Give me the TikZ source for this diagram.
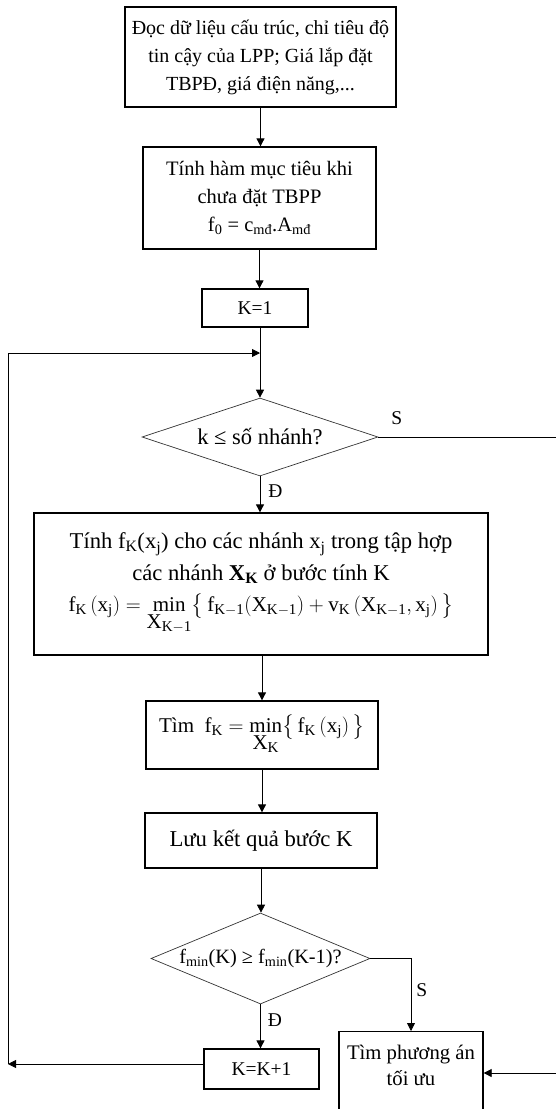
\documentclass[tikz,border=0pt]{standalone}
\usepackage{amsmath}
\usepackage{fontspec}
\setmainfont{Liberation Serif}
\usetikzlibrary{arrows.meta,shapes.geometric}
\DeclareMathSizes{21}{21}{15}{11}
\newcommand\tx[1]{\text{#1}}
\newcommand\mylim[1]{\mathop{\tx{min}}\limits_{\textstyle #1}}
\newcommand\fsz[2]{\fontsize{#1}{#2}\selectfont}
\begin{document}
\begin{tikzpicture}[x=1pt,y=-1pt,
  every node/.style={font=\fsz{19.5}{28}},
  box/.style={draw, line width=1.3pt, align=center, inner sep=0pt},
  dec/.style={draw=black!80, shape=diamond, line width=0.7pt, inner sep=0pt, aspect=2.5},
  conn/.style={line width=0.8pt},
  arr/.style={conn, -{Triangle[length=8pt,width=8pt]}},
  lbl/.style={inner sep=0pt}]
\useasboundingbox (0,0) rectangle (556,1109);

\node[box, minimum width=271pt, minimum height=100pt, font=\fsz{20}{28}] (b1) at (260.5,57)
  {Đọc dữ liệu cấu trúc, chỉ tiêu độ\\tin cậy của LPP; Giá lắp đặt\\TBPĐ, giá điện năng,...};
\node[box, minimum width=233pt, minimum height=102pt, font=\fsz{20.5}{28}] (b2) at (259.5,198)
  {Tính hàm mục tiêu khi\\chưa đặt TBPP\\f\textsubscript{0} = c\textsubscript{mđ}.A\textsubscript{mđ}};
\node[box, minimum width=106pt, minimum height=38pt] (k1) at (255,308) {K=1};
\node[dec, minimum width=236pt, minimum height=78pt, font=\fsz{22.5}{28}] (d1) at (260,437) {k ≤ số nhánh?};
\node[box, minimum width=454pt, minimum height=142pt, font=\fsz{22.6}{31.5}] (b3) at (261,584)
  {Tính f\textsubscript{K}(x\textsubscript{j}) cho các nhánh x\textsubscript{j} trong tập hợp\\
   các nhánh \textbf{X\textsubscript{K}} ở bước tính K\\
   \fsz{21}{31}$\tx{f}_{\tx{K}}\,(\tx{x}_{\tx{j}}) = \mylim{\tx{X}_{\tx{K}-\tx{1}}}\bigl\{\,\tx{f}_{\tx{K}-\tx{1}}(\tx{X}_{\tx{K}-\tx{1}}) + \tx{v}_{\tx{K}}\,(\tx{X}_{\tx{K}-\tx{1}},\tx{x}_{\tx{j}})\,\bigr\}$};
\node[box, minimum width=232pt, minimum height=68pt, font=\fsz{21}{28}] (b4) at (262,735)
  {Tìm\ \ $\tx{f}_{\tx{K}} = \mylim{\tx{X}_{\tx{K}}}\bigl\{\,\tx{f}_{\tx{K}}\,(\tx{x}_{\tx{j}})\,\bigr\}$};
\node[box, minimum width=232pt, minimum height=55pt, font=\fsz{22.7}{28}] (b5) at (261,840.5) {Lưu kết quả bước K};
\node[dec, minimum width=219pt, minimum height=91pt, font=\fsz{20.3}{28}] (d2) at (260.5,958.5)
  {f\textsubscript{min}(K) ≥ f\textsubscript{min}(K-1)?};
\node[box, minimum width=115pt, minimum height=40pt] (kk) at (261.5,1069) {K=K+1};
\node[box, minimum width=144pt, minimum height=94pt, anchor=north, font=\fsz{20.7}{26}] (b6) at (411,1031)
  {Tìm phương án\\tối ưu\\ \mbox{}};

\coordinate (J) at (260,353);
\coordinate (L1) at (8,1064);
\coordinate (L2) at (8,353);
\coordinate (R1) at (562,437);
\coordinate (R2) at (562,1073);

\draw[arr] (b1.south) -- (b1.south |- b2.north);
\draw[arr] (b2.south) -- (b2.south |- k1.north);
\draw[conn] (k1.south -| d1.north) -- (J);
\draw[arr] (J) -- (d1.north);
\draw[arr] (d1.south) -- node[lbl, pos=0.4, right=8pt] {Đ} (d1.south |- b3.north);
\draw[arr] (b3.south -| b4.north) -- (b4.north);
\draw[arr] (b4.south) -- (b4.south |- b5.north);
\draw[arr] (b5.south) -- (b5.south |- d2.north);
\draw[arr] (d2.south) -- node[lbl, pos=0.35, right=7pt] {Đ} (d2.south |- kk.north);
\draw[arr] (d2.east) -| node[lbl, pos=0.72, right=5pt] {S} (b6.north);
\draw[arr] ([yshift=5pt]kk.west) -- (L1);
\draw[conn] (L1) -- (L2);
\draw[arr] (L2) -- (J);
\draw[conn] (d1.east) -- node[lbl, pos=0.1, above=12pt] {S} (R1) -- (R2);
\draw[arr] (R2) -- (R2 -| b6.east);
\end{tikzpicture}
\end{document}
